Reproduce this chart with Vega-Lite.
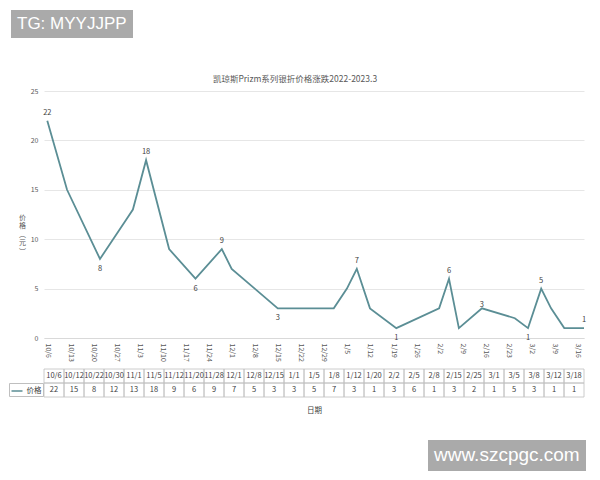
{
  "$schema": "https://vega.github.io/schema/vega-lite/v6.json",
  "padding": {"left": 8, "top": 10, "right": 5, "bottom": 5},
  "background": "white",
  "bounds": "flush",
  "spacing": 31,
  "config": {"font": "Noto Sans CJK SC", "view": {"stroke": null}},
  "resolve": {"scale": {"opacity": "independent", "color": "independent"}, "legend": {"opacity": "independent", "color": "independent"}},
  "datasets": {
    "prices": [
      {"date": "2022-10-06", "d": "10/6", "v": 22},
      {"date": "2022-10-12", "d": "10/12", "v": 15},
      {"date": "2022-10-22", "d": "10/22", "v": 8},
      {"date": "2022-10-30", "d": "10/30", "v": 12},
      {"date": "2022-11-01", "d": "11/1", "v": 13},
      {"date": "2022-11-05", "d": "11/5", "v": 18},
      {"date": "2022-11-12", "d": "11/12", "v": 9},
      {"date": "2022-11-20", "d": "11/20", "v": 6},
      {"date": "2022-11-28", "d": "11/28", "v": 9},
      {"date": "2022-12-01", "d": "12/1", "v": 7},
      {"date": "2022-12-08", "d": "12/8", "v": 5},
      {"date": "2022-12-15", "d": "12/15", "v": 3},
      {"date": "2023-01-01", "d": "1/1", "v": 3},
      {"date": "2023-01-05", "d": "1/5", "v": 5},
      {"date": "2023-01-08", "d": "1/8", "v": 7},
      {"date": "2023-01-12", "d": "1/12", "v": 3},
      {"date": "2023-01-20", "d": "1/20", "v": 1},
      {"date": "2023-02-02", "d": "2/2", "v": 3},
      {"date": "2023-02-05", "d": "2/5", "v": 6},
      {"date": "2023-02-08", "d": "2/8", "v": 1},
      {"date": "2023-02-15", "d": "2/15", "v": 3},
      {"date": "2023-02-25", "d": "2/25", "v": 2},
      {"date": "2023-03-01", "d": "3/1", "v": 1},
      {"date": "2023-03-05", "d": "3/5", "v": 5},
      {"date": "2023-03-08", "d": "3/8", "v": 3},
      {"date": "2023-03-12", "d": "3/12", "v": 1},
      {"date": "2023-03-18", "d": "3/18", "v": 1}
    ]
  },
  "vconcat": [
    {
      "width": 540,
      "height": 247,
      "data": {"name": "prices"},
      "title": {"text": "凯琼斯Prizm系列银折价格涨跌2022-2023.3", "fontSize": 8.5, "color": "#595959", "fontWeight": "normal", "offset": 4, "dx": -19},
      "encoding": {
        "x": {
          "field": "date", "type": "temporal",
          "scale": {"type": "utc", "domain": [{"year": 2022, "month": 10, "date": 5, "utc": true}, {"year": 2023, "month": 3, "date": 18, "utc": true}]},
          "axis": {
            "title": null, "labelExpr": "utcFormat(datum.value, '%-m/%-d')", "labelAngle": 90, "labelFontSize": 7, "labelColor": "#595959",
            "labelPadding": 5, "ticks": false, "grid": false, "domainColor": "#d9d9d9", "labelOverlap": false,
            "values": [
              {"year": 2022, "month": 10, "date": 6, "utc": true},
              {"year": 2022, "month": 10, "date": 13, "utc": true},
              {"year": 2022, "month": 10, "date": 20, "utc": true},
              {"year": 2022, "month": 10, "date": 27, "utc": true},
              {"year": 2022, "month": 11, "date": 3, "utc": true},
              {"year": 2022, "month": 11, "date": 10, "utc": true},
              {"year": 2022, "month": 11, "date": 17, "utc": true},
              {"year": 2022, "month": 11, "date": 24, "utc": true},
              {"year": 2022, "month": 12, "date": 1, "utc": true},
              {"year": 2022, "month": 12, "date": 8, "utc": true},
              {"year": 2022, "month": 12, "date": 15, "utc": true},
              {"year": 2022, "month": 12, "date": 22, "utc": true},
              {"year": 2022, "month": 12, "date": 29, "utc": true},
              {"year": 2023, "month": 1, "date": 5, "utc": true},
              {"year": 2023, "month": 1, "date": 12, "utc": true},
              {"year": 2023, "month": 1, "date": 19, "utc": true},
              {"year": 2023, "month": 1, "date": 26, "utc": true},
              {"year": 2023, "month": 2, "date": 2, "utc": true},
              {"year": 2023, "month": 2, "date": 9, "utc": true},
              {"year": 2023, "month": 2, "date": 16, "utc": true},
              {"year": 2023, "month": 2, "date": 23, "utc": true},
              {"year": 2023, "month": 3, "date": 2, "utc": true},
              {"year": 2023, "month": 3, "date": 9, "utc": true},
              {"year": 2023, "month": 3, "date": 16, "utc": true}
            ]
          }
        },
        "y": {
          "field": "v", "type": "quantitative",
          "scale": {"domain": [0, 25]},
          "axis": {
            "values": [0, 5, 10, 15, 20, 25], "grid": true, "gridColor": "#e6e6e6", "domain": false, "ticks": false,
            "labelFontSize": 7, "labelColor": "#595959", "labelPadding": 6,
            "title": ["价", "格", "︵", "元", "︶"], "titleAngle": 0, "titleX": -22, "titleY": 126, "titleAlign": "center",
            "titleBaseline": "middle", "titleFontSize": 7, "titleLineHeight": 8.5, "titleColor": "#595959", "titleFontWeight": "normal"
          }
        }
      },
      "layer": [
        {
          "mark": {"type": "line", "strokeWidth": 1.8},
          "encoding": {
            "color": {
              "datum": "价格", "type": "nominal", "scale": {"range": ["#5b8e95"]},
              "legend": {"orient": "none", "legendX": -35, "legendY": 292, "title": null, "symbolType": "stroke", "symbolSize": 121,
                "symbolStrokeWidth": 1.5, "labelFontSize": 7.5, "labelColor": "#404040", "padding": 1.5, "strokeColor": "#bfbfbf", "labelOffset": 3}
            }
          }
        },
        {
          "transform": [{"filter": {"field": "d", "oneOf": ["10/6", "11/5", "11/28", "1/8", "2/5", "3/5", "3/18"]}}],
          "mark": {"type": "text", "fontSize": 7.5, "color": "#404040", "baseline": "bottom", "dy": -4},
          "encoding": {"text": {"field": "v", "type": "quantitative"}}
        },
        {
          "transform": [{"filter": {"field": "d", "oneOf": ["2/15"]}}],
          "mark": {"type": "text", "fontSize": 7.5, "color": "#404040", "baseline": "middle", "dy": -3},
          "encoding": {"text": {"field": "v", "type": "quantitative"}}
        },
        {
          "transform": [{"filter": {"field": "d", "oneOf": ["10/22", "11/20", "12/15", "1/20", "3/1"]}}],
          "mark": {"type": "text", "fontSize": 7.5, "color": "#404040", "baseline": "top", "dy": 6},
          "encoding": {"text": {"field": "v", "type": "quantitative"}}
        }
      ]
    },
    {
      "width": 540,
      "height": 28,
      "data": {"name": "prices"},
      "resolve": {"scale": {"opacity": "independent"}, "legend": {"opacity": "independent"}},
      "encoding": {
        "x": {
          "field": "d", "type": "ordinal", "sort": null,
          "scale": {"paddingInner": 0, "paddingOuter": 0},
          "axis": {"labels": false, "ticks": false, "domain": false, "title": "日期", "titleFontSize": 7.5, "titleColor": "#404040",
            "titleFontWeight": "normal", "titlePadding": 9, "minExtent": 0, "maxExtent": 0}
        }
      },
      "layer": [
        {
          "mark": {"type": "rect", "fillOpacity": 0, "stroke": "#bfbfbf", "strokeWidth": 0.8},
          "encoding": {"y": {"datum": "h", "type": "nominal", "scale": {"domain": ["h", "p"], "paddingInner": 0, "paddingOuter": 0}, "axis": null}}
        },
        {
          "mark": {"type": "rect", "fillOpacity": 0, "stroke": "#bfbfbf", "strokeWidth": 0.8},
          "encoding": {"y": {"datum": "p", "type": "nominal", "axis": null}}
        },
        {
          "mark": {"type": "text", "fontSize": 7.5, "color": "#404040"},
          "encoding": {
            "y": {"datum": "h", "type": "nominal", "axis": null},
            "text": {"field": "d", "type": "nominal"},
            "opacity": {
              "datum": "w", "type": "ordinal", "scale": {"domain": ["w"], "range": [1]},
              "legend": {"orient": "none", "legendX": -33, "legendY": -359, "title": "TG: MYYJJPP\u00a0\u00a0\u00a0", "values": [],
                "fillColor": "#aaaaaa", "padding": 6, "titleColor": "#ffffff", "titleFontSize": 17, "titleFont": "Liberation Sans",
                "titleFontWeight": "normal", "titlePadding": 0}
            }
          }
        },
        {
          "mark": {"type": "text", "fontSize": 7.5, "color": "#404040"},
          "encoding": {
            "y": {"datum": "p", "type": "nominal", "axis": null},
            "text": {"field": "v", "type": "quantitative"},
            "opacity": {
              "datum": "w2", "type": "ordinal", "scale": {"domain": ["w2"], "range": [1]},
              "legend": {"orient": "none", "legendX": 384, "legendY": 71, "title": "www.szcpgc.com\u00a0", "values": [],
                "fillColor": "#aaaaaa", "padding": 6, "titleColor": "#ffffff", "titleFontSize": 19, "titleFont": "Liberation Sans",
                "titleFontWeight": "normal", "titlePadding": 0}
            }
          }
        }
      ]
    }
  ]
}
